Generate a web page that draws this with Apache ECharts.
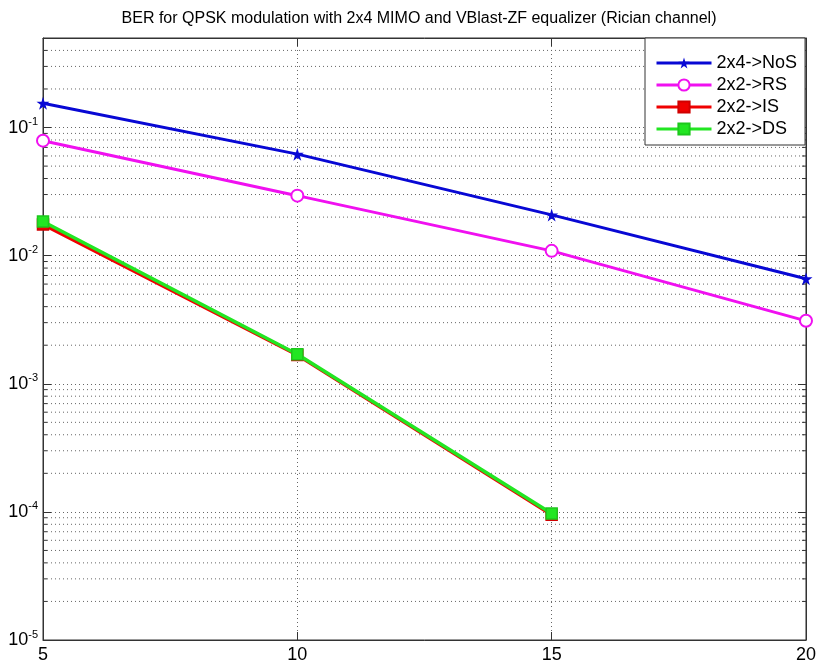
<!DOCTYPE html>
<html>
<head>
<meta charset="utf-8">
<script src="https://cdn.jsdelivr.net/npm/echarts@6/dist/echarts.min.js"></script>
<style>
  html, body { margin: 0; padding: 0; background: #fff; }
  #chart { width: 819px; height: 666px; }
</style>
</head>
<body>
<div id="chart"></div>
<script>
// SNR points (dB) and bit error rates per scheme
const snr = [5, 10, 15, 20];
const berNoS = [0.155, 0.062, 0.0208, 0.0066];
const berRS = [0.079, 0.0294, 0.0109, 0.0031];
const snrShort = [5, 10, 15];
const berIS = [0.0175, 0.00168, 0.000095];
const berDS = [0.0185, 0.0017, 0.000097];
const seriesNames = ['2x4->NoS', '2x2->RS', '2x2->IS', '2x2->DS'];
const xTicks = [5, 10, 15, 20];

const FONT = 'Arial, "Liberation Sans", sans-serif';
const X_MIN = 5, X_MAX = 20, Y_MIN = 1e-5, Y_MAX = 0.5;

function pairs(xs, ys) { return xs.map((x, i) => [x, ys[i]]); }

// minor log grid values: 2..9 within each decade, clipped to the axis range
const minorVals = [];
for (let e = -5; e <= -1; e++) {
  for (let k = 2; k <= 9; k++) {
    const v = k * Math.pow(10, e);
    if (v < Y_MAX * 0.999) minorVals.push(v);
  }
}

function isPow10(v) {
  const l = Math.log10(v);
  return Math.abs(l - Math.round(l)) < 1e-6;
}

const starPath = 'path://M50,0 L61,35 L98,35 L68,57 L79,91 L50,70 L21,91 L32,57 L2,35 L39,35 Z';
const gridDash = [1, 3];

const cBlue = '#0808d4', cMag = '#f010f0', cRed = '#f00000', cGreen = '#22e622';

const chart = echarts.init(document.getElementById('chart'), null, { renderer: 'canvas' });

const option = {
  backgroundColor: '#fff',
  animation: false,
  title: {
    text: 'BER for QPSK modulation with 2x4 MIMO and VBlast-ZF equalizer (Rician channel)',
    left: 414, top: 6, textAlign: 'center',
    textStyle: { fontFamily: FONT, fontSize: 16, fontWeight: 'normal', color: '#000' }
  },
  grid: {
    left: 43, right: 12, top: 38, bottom: 26,
    show: true, borderColor: '#333', borderWidth: 1, backgroundColor: '#fff'
  },
  legend: {
    data: seriesNames,
    orient: 'vertical',
    left: 645, top: 38,
    itemWidth: 55, itemHeight: 14, itemGap: 4,
    padding: [16, 8, 7, 10],
    backgroundColor: '#fff', borderColor: '#333', borderWidth: 1,
    lineStyle: { width: 3 },
    textStyle: { fontFamily: FONT, fontSize: 18, color: '#000' }
  },
  xAxis: [{
    type: 'value', min: X_MIN, max: X_MAX, interval: 5,
    axisLine: { show: true, lineStyle: { color: '#333' } },
    axisTick: { show: true, inside: true, length: 8, lineStyle: { color: '#333' } },
    axisLabel: { fontFamily: FONT, fontSize: 18, color: '#000', margin: 6,
      formatter: v => (xTicks.indexOf(v) >= 0 ? String(v) : '') },
    splitLine: { show: true, lineStyle: { color: '#666', type: gridDash, width: 1 } }
  }, {
    type: 'value', position: 'top', min: X_MIN, max: X_MAX, interval: 5,
    axisLine: { show: true, lineStyle: { color: '#333' } },
    axisTick: { show: true, inside: true, length: 8, lineStyle: { color: '#333' } },
    axisLabel: { show: false }, splitLine: { show: false }
  }],
  yAxis: [{
    type: 'log', logBase: 10, min: Y_MIN, max: Y_MAX,
    axisLine: { show: true, lineStyle: { color: '#333' } },
    axisTick: { show: true, inside: true, length: 8, lineStyle: { color: '#333' } },
    axisLabel: {
      margin: 5,
      formatter: v => isPow10(v) ? '{b|10}{s|' + Math.round(Math.log10(v)) + '}' : '',
      rich: {
        b: { fontFamily: FONT, fontSize: 18, color: '#000' },
        s: { fontFamily: FONT, fontSize: 11, color: '#000', verticalAlign: 'top', padding: [0, 0, 11, 0] }
      }
    },
    splitLine: { show: true, lineStyle: { color: '#666', type: gridDash, width: 1 } }
  }, {
    type: 'log', logBase: 10, min: Y_MIN, max: Y_MAX, position: 'right',
    axisLine: { show: true, lineStyle: { color: '#333' } },
    axisTick: { show: true, inside: true, length: 8, lineStyle: { color: '#333' } },
    axisLabel: { show: false }, splitLine: { show: false }
  }],
  series: [
    {
      // minor log grid with short inside ticks on both vertical edges
      type: 'custom', silent: true, z: 1,
      data: minorVals.map(v => [X_MIN, v]),
      renderItem: function (params, api) {
        const v = api.value(1);
        const a = api.coord([X_MIN, v]);
        const b = api.coord([X_MAX, v]);
        return {
          type: 'group',
          children: [
            { type: 'line', shape: { x1: a[0], y1: a[1], x2: b[0], y2: b[1] },
              style: { stroke: '#666', lineWidth: 1, lineDash: gridDash } },
            { type: 'line', shape: { x1: a[0], y1: a[1], x2: a[0] + 4, y2: a[1] },
              style: { stroke: '#333', lineWidth: 1 } },
            { type: 'line', shape: { x1: b[0] - 4, y1: b[1], x2: b[0], y2: b[1] },
              style: { stroke: '#333', lineWidth: 1 } }
          ]
        };
      }
    },
    {
      name: seriesNames[0], type: 'line', z: 5,
      data: pairs(snr, berNoS),
      symbol: starPath, symbolSize: 13,
      lineStyle: { color: cBlue, width: 3 },
      itemStyle: { color: cBlue }
    },
    {
      name: seriesNames[1], type: 'line', z: 5,
      data: pairs(snr, berRS),
      symbol: 'emptyCircle', symbolSize: 12,
      lineStyle: { color: cMag, width: 3 },
      itemStyle: { color: cMag, borderWidth: 3 }
    },
    {
      name: seriesNames[2], type: 'line', z: 5,
      data: pairs(snrShort, berIS),
      symbol: 'rect', symbolSize: 11,
      lineStyle: { color: cRed, width: 3.5 },
      itemStyle: { color: cRed, borderColor: '#d00000', borderWidth: 1.5 }
    },
    {
      name: seriesNames[3], type: 'line', z: 6,
      data: pairs(snrShort, berDS),
      symbol: 'rect', symbolSize: 11,
      lineStyle: { color: cGreen, width: 3.5 },
      itemStyle: { color: cGreen, borderColor: '#1cc81c', borderWidth: 1.5 }
    }
  ]
};

chart.setOption(option);
</script>
</body>
</html>
